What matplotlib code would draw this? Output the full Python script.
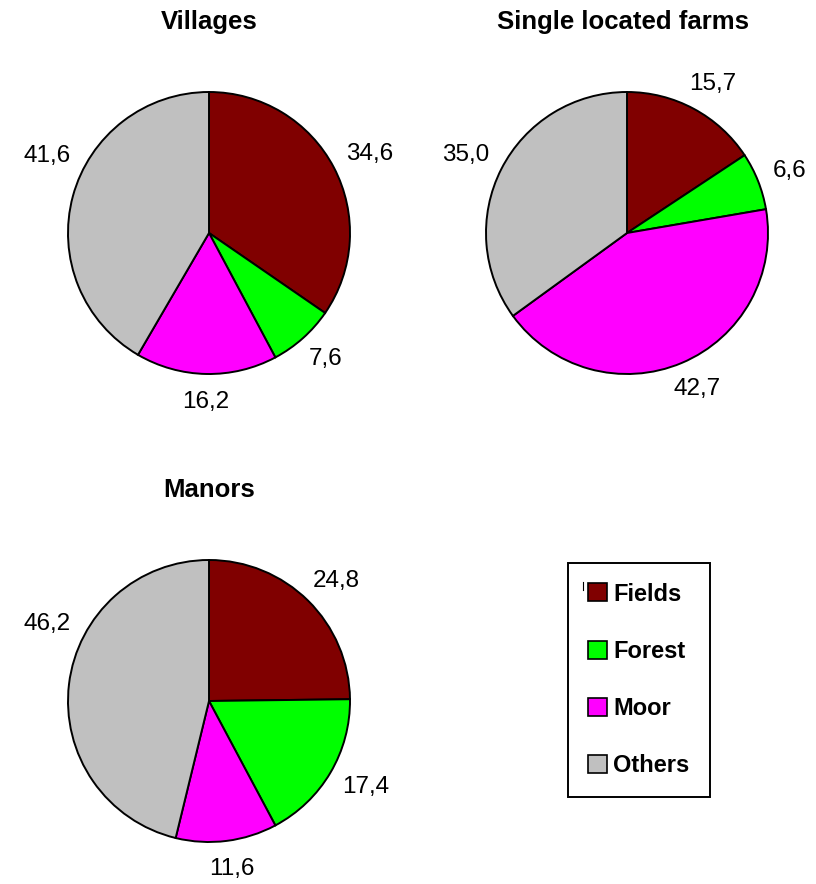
"""Land use shares for villages, single located farms and manors."""

import matplotlib
matplotlib.use("Agg")
import matplotlib.pyplot as plt
import numpy as np
from matplotlib.patches import Patch

FIG_W, FIG_H = 816, 884  # px
DPI = 100
RADIUS = 141  # px
LABEL_GAP = 17  # px between pie edge and label box
LABEL_REACH = 185  # px, labels may not stick out further left than this

CATEGORIES = ["Fields", "Forest", "Moor", "Others"]
COLORS = ["#800000", "#00FF00", "#FF00FF", "#C0C0C0"]

VILLAGES = [34.6, 7.6, 16.2, 41.6]
FARMS = [15.7, 6.6, 42.7, 35.0]
MANORS = [24.8, 17.4, 11.6, 46.2]

TITLES = ["Villages", "Single located farms", "Manors"]

plt.rcParams["font.family"] = ["Liberation Sans", "DejaVu Sans"]


def _fmt(v):
    return f"{v:.1f}".replace(".", ",")


def _draw_pie(ax, values, center_px, title, title_xy):
    cx, cy = center_px[0], FIG_H - center_px[1]
    wedges, texts = ax.pie(
        values,
        colors=COLORS,
        labels=[_fmt(v) for v in values],
        labeldistance=1.2,
        startangle=90,
        counterclock=False,
        center=(cx, cy),
        radius=RADIUS,
        wedgeprops={"edgecolor": "black", "linewidth": 1.4},
        textprops={"fontsize": 17.5},
        frame=True,
    )
    ax.text(title_xy[0], FIG_H - title_xy[1], title, ha="center", va="center",
            fontsize=18.5, fontweight="bold")
    return wedges, texts


def _place_labels(fig, wedges, texts):
    # excel style: label box sits just outside the rim, pushed out by half its size
    renderer = fig.canvas.get_renderer()
    for w, t in zip(wedges, texts):
        theta = np.deg2rad((w.theta1 + w.theta2) / 2)
        bb = t.get_window_extent(renderer)
        cx, cy = w.center
        dist = w.r + LABEL_GAP
        rx = dist + bb.width / 2
        ry = dist + bb.height / 2
        if rx * np.cos(theta) - bb.width / 2 < -LABEL_REACH:
            # slide label up along the rim until it fits inside the chart area
            theta = np.arccos(-(LABEL_REACH - bb.width / 2) / rx)
        t.set_position((cx + rx * np.cos(theta), cy + ry * np.sin(theta)))
        t.set_horizontalalignment("center")
        t.set_verticalalignment("center")


fig = plt.figure(figsize=(FIG_W / DPI, FIG_H / DPI), dpi=DPI)
ax = fig.add_axes([0, 0, 1, 1])

pies = [
    _draw_pie(ax, VILLAGES, (209, 233), TITLES[0], (209, 22)),
    _draw_pie(ax, FARMS, (627, 233), TITLES[1], (623, 22)),
    _draw_pie(ax, MANORS, (209, 701), TITLES[2], (209, 490)),
]

ax.set_xlim(0, FIG_W)
ax.set_ylim(0, FIG_H)
ax.set_aspect("equal")
ax.axis("off")

fig.canvas.draw()
for wedges, texts in pies:
    _place_labels(fig, wedges, texts)

handles = [Patch(facecolor=c, edgecolor="black", linewidth=1.2) for c in COLORS]
leg = ax.legend(
    handles, CATEGORIES,
    loc="center",
    bbox_to_anchor=(639 / FIG_W, 1 - 680 / FIG_H),
    bbox_transform=fig.transFigure,
    prop={"size": 17, "weight": "bold"},
    handlelength=0.8,
    handleheight=0.8,
    handletextpad=0.25,
    labelspacing=1.45,
    borderpad=0.85,
    fancybox=False,
    framealpha=1,
    edgecolor="black",
)
leg.get_frame().set_linewidth(1.4)

# small stray mark left of the first legend entry
ax.plot([583, 583], [FIG_H - 582, FIG_H - 590], color="black", lw=0.8, zorder=10)

fig.savefig("out.png", dpi=DPI)
